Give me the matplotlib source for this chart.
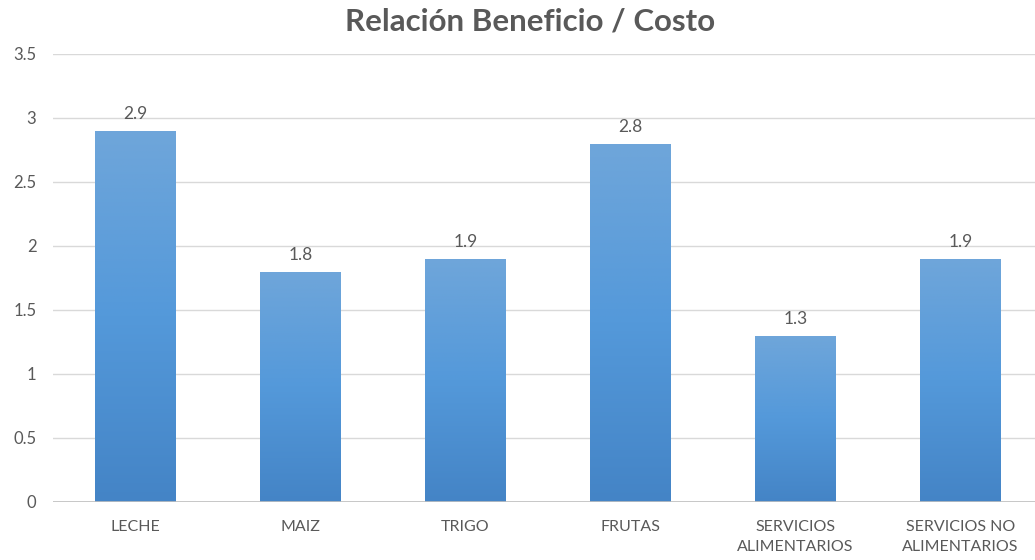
import numpy as np
import matplotlib
matplotlib.use("Agg")
import matplotlib.pyplot as plt
from matplotlib.colors import LinearSegmentedColormap

categories = ["LECHE", "MAIZ", "TRIGO", "FRUTAS", "SERVICIOS\nALIMENTARIOS", "SERVICIOS NO\nALIMENTARIOS"]
values = [2.9, 1.8, 1.9, 2.8, 1.3, 1.9]
yticks = [0, 0.5, 1, 1.5, 2, 2.5, 3, 3.5]
title = "Relación Beneficio / Costo"

plt.rcParams['font.family'] = ['Lato', 'DejaVu Sans']
W, H = 1035, 560
fig = plt.figure(figsize=(W/100, H/100), dpi=100)
left, right = 53, 1043
bottom, top = 502, 54
ax = fig.add_axes([left/W, 1-bottom/H, (right-left)/W, (bottom-top)/H])

grey = "#595959"
for y in yticks:
    ax.axhline(y, color="#d9d9d9", lw=1, zorder=0)
ax.axhline(0, color="#bfbfbf", lw=1.2, zorder=3)
for s in ax.spines.values():
    s.set_visible(False)

cmap = LinearSegmentedColormap.from_list("g", ["#4484c6", "#5499da", "#6fa6da"])
grad = np.linspace(0, 1, 256).reshape(-1, 1)
bw = 0.49
bars = ax.bar(range(len(categories)), values, width=bw, color="none", zorder=2)
for b, v in zip(bars, values):
    x0 = b.get_x()
    im = ax.imshow(grad, cmap=cmap, origin="lower", aspect="auto",
                   extent=[x0, x0+bw, 0, v], zorder=2)
    im.set_clip_path(b)
    ax.text(x0+bw/2, v+0.07, f"{v:g}", ha="center", va="bottom",
            fontsize=12.5, color=grey)

ax.set_xticks(range(len(categories)))
ax.set_xticklabels(categories, fontsize=11.5, color=grey, linespacing=1.5)
ax.set_yticks(yticks)
ax.set_yticklabels([f"{t:g}" for t in yticks], fontsize=12, color=grey)
ax.tick_params(length=0)
ax.tick_params(axis="y", pad=12)
ax.tick_params(axis="x", pad=13)
ax.set_xlim(-0.5, len(categories)-0.5)
ax.set_ylim(0, 3.5)

fig.text(530/W, 1-22/H, title, ha="center", va="center", fontsize=22.5,
         fontweight="bold", color=grey)

fig.savefig("out.png", dpi=100)
